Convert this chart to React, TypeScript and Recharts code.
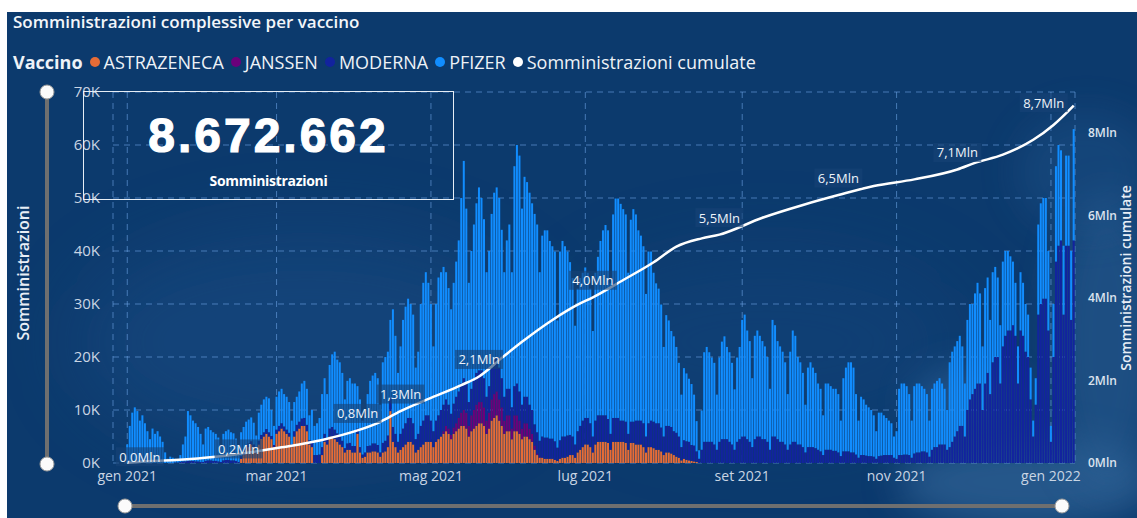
import React from 'react';
import { ComposedChart, Bar, Line, XAxis, YAxis, CartesianGrid, LabelList } from 'recharts';

const FONT = '"Open Sans", "Noto Sans", sans-serif';

// ---- daily administrations (thousands), one sub-array per month, from 2021-01-01 ----
const none = (n: number): number[] => Array(n).fill(0);

const astrazenecaByMonth: number[][] = [
  none(31),
  [...none(14), 0.8, 1.5, 2.5, 3.0, 3.5, 3.0, 2.0, 3.5, 4.5, 5.0, 5.5, 5.0, 4.5, 3.0],
  [5.5, 6.0, 6.5, 6.0, 5.5, 5.0, 3.0, 5.0, 6.0, 6.5, 7.0, 7.0, 6.0, 3.5, 3.0, 0, 0, 0, 1.5, 4.0, 3.5, 5.0, 5.0, 4.5, 4.0, 3.5, 3.0, 2.0, 2.5, 2.5, 2.0],
  [2.0, 5.5, 2.0, 1.0, 1.2, 2.0, 2.0, 2.2, 2.2, 2.0, 1.2, 2.0, 2.2, 3.0, 9.8, 4.0, 3.0, 2.0, 2.5, 3.0, 3.5, 4.0, 4.0, 3.5, 2.0, 2.5, 3.0, 3.5, 4.0, 4.0],
  [4.0, 3.0, 4.0, 4.5, 5.0, 5.5, 6.0, 5.5, 4.5, 5.5, 6.0, 6.5, 7.0, 7.0, 6.5, 5.0, 6.0, 6.5, 7.0, 7.5, 7.5, 7.0, 5.5, 6.5, 8.0, 8.5, 9.0, 8.0, 7.0, 5.5, 6.0],
  [6.0, 4.5, 6.0, 6.0, 5.5, 4.5, 5.0, 5.0, 4.5, 4.0, 2.5, 1.5, 1.0, 1.0, 0.8, 0.8, 0.8, 0.8, 0.6, 0.4, 0.8, 1.0, 1.0, 1.2, 1.5, 1.5, 1.0, 2.0, 2.5, 3.0],
  [3.5, 3.5, 3.0, 2.0, 3.5, 4.0, 4.0, 4.0, 4.0, 3.8, 2.5, 4.0, 4.0, 4.0, 4.0, 4.0, 3.8, 2.5, 3.8, 3.8, 3.5, 3.5, 3.5, 3.0, 2.0, 3.0, 3.0, 2.8, 2.5, 2.5, 2.2],
  [1.5, 2.0, 2.0, 1.8, 1.5, 1.2, 1.0, 0.5, 0.8, 0.6, 0.5, 0.4, 0.3, 0.2, ...none(17)],
  none(30), none(31), none(30), none(31),
  none(10),
];

const janssenByMonth: number[][] = [
  none(31), none(28), none(31), none(30),
  [0, 0, 0, 0, 0, 0.5, 1.0, 1.0, 0.8, 1.2, 1.5, 2.0, 2.5, 3.0, 3.0, 2.0, 3.0, 3.5, 4.0, 4.0, 4.0, 3.5, 2.5, 3.0, 4.0, 4.5, 4.5, 4.0, 3.5, 2.5, 3.0],
  [3.0, 2.0, 3.0, 3.0, 2.5, 2.0, 2.5, 2.5, 2.0, 1.5, 0.8, 0.3, 0.2, ...none(17)],
  none(31), none(31), none(30), none(31), none(30), none(31),
  none(10),
];

const modernaByMonth: number[][] = [
  [...none(19), 0.1, 0.1, 0.2, 0.3, 0.3, 0.4, 0.4, 0.4, 0.3, 0.3, 0.2, 0.2],
  [0.4, 0.5, 0.5, 0.4, 0.4, 0.3, 0.2, 0.5, 0.6, 0.6, 0.5, 0.5, 0.4, 0.2, 0.5, 0.6, 0.7, 0.7, 0.6, 0.5, 0.3, 0.7, 0.8, 0.8, 0.9, 0.8, 0.6, 0.4],
  [0.8, 1.0, 1.0, 0.9, 0.8, 0.7, 0.5, 1.0, 1.2, 1.3, 1.4, 1.5, 1.2, 0.8, 1.2, 1.5, 1.5, 1.6, 1.5, 1.5, 1.0, 1.5, 1.8, 1.8, 1.6, 1.5, 1.2, 0.8, 1.2, 1.3, 1.2],
  [1.2, 1.0, 1.0, 0.6, 0.8, 1.2, 1.3, 1.5, 1.5, 1.4, 0.8, 1.8, 2.0, 2.2, 2.5, 2.8, 2.5, 2.0, 3.0, 3.5, 4.0, 4.5, 4.5, 4.0, 2.5, 3.0, 4.0, 4.5, 5.0, 5.0],
  [4.0, 3.0, 4.0, 4.5, 5.0, 5.0, 5.0, 4.5, 4.0, 4.5, 5.0, 5.0, 5.5, 6.0, 5.5, 4.5, 5.0, 5.5, 6.0, 6.0, 6.0, 5.5, 4.5, 5.0, 6.0, 6.5, 6.5, 6.0, 5.5, 4.5, 5.0],
  [5.0, 4.0, 5.5, 6.0, 5.5, 4.5, 5.0, 5.0, 4.5, 4.5, 4.0, 4.0, 3.0, 4.0, 4.0, 4.0, 3.8, 3.8, 3.5, 2.5, 3.5, 4.0, 4.0, 4.0, 3.8, 3.5, 2.5, 4.0, 4.5, 5.0],
  [5.0, 5.0, 4.5, 3.0, 4.5, 5.0, 5.0, 5.0, 5.0, 4.5, 3.0, 4.5, 4.5, 4.5, 4.0, 4.0, 4.0, 3.0, 4.0, 4.0, 4.5, 4.5, 4.5, 4.5, 3.0, 4.5, 5.0, 5.0, 5.0, 5.0, 4.5],
  [3.5, 5.0, 5.0, 5.0, 4.5, 4.5, 4.0, 2.5, 3.5, 3.5, 3.5, 3.0, 3.0, 2.0, 0.8, 2.5, 4.0, 4.0, 4.0, 4.0, 3.5, 2.5, 4.0, 4.5, 4.5, 4.5, 4.0, 3.5, 2.5, 4.0, 4.5],
  [5.0, 5.0, 4.5, 4.0, 3.0, 4.5, 5.0, 5.0, 4.5, 4.5, 4.0, 2.5, 5.0, 5.0, 4.5, 4.0, 4.0, 3.5, 2.5, 3.5, 4.0, 4.0, 3.5, 3.5, 3.0, 2.0, 3.0, 3.0, 3.0, 2.8],
  [2.5, 2.2, 1.5, 2.5, 2.5, 2.5, 2.3, 2.3, 2.0, 1.3, 2.2, 2.2, 2.2, 2.0, 2.0, 1.6, 1.0, 1.5, 1.5, 1.4, 1.3, 1.3, 1.2, 0.8, 1.3, 1.4, 1.5, 1.5, 1.5, 1.5, 1.0],
  [0.8, 1.5, 1.5, 1.6, 1.6, 1.5, 1.0, 1.8, 2.0, 2.0, 2.2, 2.2, 2.0, 1.2, 2.5, 3.0, 3.0, 3.5, 3.5, 3.5, 2.5, 3.0, 4.0, 5.0, 6.0, 7.0, 7.0, 5.0, 10.0, 12.0],
  [13, 14, 15, 15, 10, 15, 17, 13, 19, 20, 20, 15, 22, 24, 25, 25, 26, 24, 15, 25, 24, 21, 20, 12, 5, 11, 28, 30, 31, 31, 25],
  [4, 20, 38, 41, 42, 28, 41, 41, 27, 42],
];

const pfizerByMonth: number[][] = [
  [3.5, 7.0, 9.5, 10.5, 9.8, 8.0, 9.0, 7.5, 6.0, 4.5, 6.5, 5.5, 6.0, 5.0, 4.0, 2.0, 0.8, 1.2, 1.0, 0.7, 0.5, 1.3, 3.2, 4.7, 9.4, 8.6, 7.6, 7.2, 6.5, 5.3, 3.3],
  [6.1, 6.3, 5.7, 5.4, 5.1, 4.5, 3.0, 5.0, 5.4, 5.7, 5.3, 5.1, 4.2, 2.8, 4.5, 4.7, 4.6, 4.5, 4.5, 4.1, 2.9, 5.3, 5.7, 6.2, 6.1, 6.4, 4.9, 3.6],
  [6.2, 6.5, 6.5, 6.1, 6.2, 5.8, 4.5, 5.5, 5.3, 5.7, 6.6, 7.0, 6.8, 4.7, 5.8, 5.5, 6.0, 6.9, 10.0, 10.5, 8.5, 12.0, 13.7, 14.7, 13.9, 14.0, 12.8, 9.2, 11.8, 12.2, 11.8],
  [11.8, 8.0, 9.0, 6.4, 7.0, 9.8, 12.2, 12.8, 13.3, 12.6, 9.0, 15.2, 15.8, 15.8, 14.7, 22.2, 18.5, 13.0, 16.5, 20.5, 22.0, 22.5, 21.5, 20.5, 13.5, 15.5, 23.0, 26.0, 27.0, 25.0],
  [22.0, 16.0, 22.0, 26.0, 26.0, 26.0, 24.0, 22.0, 19.7, 22.8, 25.5, 28.5, 35.0, 41.0, 33.0, 22.5, 26.0, 29.5, 32.0, 34.5, 32.5, 30.0, 23.5, 25.5, 29.0, 31.5, 32.0, 32.0, 28.0, 23.5, 28.0],
  [31.0, 25.5, 41.5, 45.0, 44.5, 37.0, 41.5, 40.5, 40.0, 39.0, 39.7, 39.2, 31.8, 37.9, 39.1, 39.1, 37.3, 36.3, 35.8, 24.0, 35.6, 36.9, 35.9, 34.7, 32.6, 29.9, 22.4, 26.9, 27.9, 27.9],
  [28.4, 27.4, 25.4, 19.9, 27.9, 29.9, 32.9, 34.9, 35.9, 35.6, 28.4, 38.4, 41.4, 41.4, 40.9, 39.9, 39.1, 30.4, 38.1, 40.1, 38.9, 35.9, 34.9, 33.4, 26.9, 32.4, 31.9, 28.1, 26.4, 25.4, 23.2],
  [16.9, 20.9, 19.9, 18.1, 17.9, 16.2, 13.9, 9.9, 13.6, 12.8, 11.9, 11.5, 9.6, 5.7, 1.6, 7.4, 16.9, 17.9, 16.9, 15.9, 15.4, 10.4, 15.9, 18.4, 19.4, 17.4, 16.9, 15.4, 11.4, 15.9, 17.4],
  [22.0, 23.0, 20.5, 19.0, 13.0, 19.5, 20.0, 19.0, 18.5, 17.5, 16.0, 11.5, 22.0, 21.0, 18.5, 18.0, 17.0, 15.5, 10.5, 17.5, 21.0, 20.0, 16.5, 15.5, 14.0, 9.0, 15.0, 16.0, 15.0, 14.2],
  [12.5, 11.8, 7.5, 12.5, 12.5, 12.0, 11.7, 11.7, 11.0, 6.7, 13.8, 15.8, 16.8, 17.0, 16.0, 11.4, 7.0, 11.0, 10.5, 9.6, 9.2, 8.7, 7.8, 5.2, 8.2, 8.1, 7.5, 7.0, 6.5, 6.0, 4.0],
  [5.2, 12.5, 13.5, 13.4, 12.9, 11.5, 7.0, 12.7, 13.0, 13.0, 12.3, 11.8, 11.0, 6.8, 11.5, 12.0, 12.5, 12.5, 11.5, 10.5, 7.5, 16.0, 17.0, 17.0, 17.0, 17.0, 15.0, 10.0, 17.0, 18.0],
  [17, 18, 19, 17, 12, 18, 18, 14, 17, 17, 15, 11, 16, 16, 15, 14, 12, 10, 7, 11, 10, 9, 8, 6, 3, 5, 17, 19, 19, 19, 15],
  [3, 10, 18, 19, 17, 13, 17, 17, 13, 21],
];

// ---- cumulative administrations (millions) ----
const cumulDates = [
  '2021-01-01', '2021-01-06', '2021-01-20', '2021-02-05', '2021-02-14', '2021-03-03', '2021-03-19',
  '2021-04-02', '2021-04-11', '2021-04-19', '2021-05-01', '2021-05-13', '2021-05-20', '2021-05-29',
  '2021-06-06', '2021-06-18', '2021-06-28', '2021-07-04', '2021-07-16', '2021-07-28', '2021-08-06',
  '2021-08-16', '2021-08-23', '2021-09-09', '2021-09-25', '2021-10-09', '2021-10-23', '2021-11-08',
  '2021-11-25', '2021-12-02', '2021-12-13', '2021-12-25', '2022-01-02', '2022-01-10',
];
const cumulValues = [
  0.004, 0.03, 0.07, 0.15, 0.22, 0.38, 0.56,
  0.79, 1.0, 1.26, 1.58, 1.89, 2.1, 2.55,
  2.94, 3.47, 3.84, 4.02, 4.44, 4.87, 5.25,
  5.45, 5.54, 5.95, 6.26, 6.5, 6.72, 6.88,
  7.12, 7.28, 7.48, 7.84, 8.2, 8.67,
];
const labelDates = [
  '2021-01-06', '2021-02-14', '2021-04-02', '2021-04-19', '2021-05-20',
  '2021-07-04', '2021-08-23', '2021-10-09', '2021-11-25', '2022-01-10',
];

const xTickDates = ['2021-01-01', '2021-03-01', '2021-05-01', '2021-07-01', '2021-09-01', '2021-11-01', '2022-01-01'];
const xTickLabels = ['gen 2021', 'mar 2021', 'mag 2021', 'lug 2021', 'set 2021', 'nov 2021', 'gen 2022'];
const leftTicks = [0, 10, 20, 30, 40, 50, 60, 70];
const rightTicks = [0, 2, 4, 6, 8];

const seriesKeys = ['astrazeneca', 'janssen', 'moderna', 'pfizer'];
const seriesNames = ['ASTRAZENECA', 'JANSSEN', 'MODERNA', 'PFIZER'];
const seriesColors = ['#E66C37', '#6B007B', '#12239E', '#118DFF'];

const totalAdministrations = '8.672.662';

// ---- build table ----
const astrazeneca = astrazenecaByMonth.flat();
const janssen = janssenByMonth.flat();
const moderna = modernaByMonth.flat();
const pfizer = pfizerByMonth.flat();

const nDays = Math.min(astrazeneca.length, janssen.length, moderna.length, pfizer.length);
const cumulMap = new Map<string, number>(cumulDates.map((d, i) => [d, cumulValues[i]]));
const start = Date.UTC(2021, 0, 1);
const data = Array.from({ length: nDays }, (_, i) => {
  const date = new Date(start + i * 86400000).toISOString().slice(0, 10);
  return {
    date,
    astrazeneca: astrazeneca[i],
    janssen: janssen[i],
    moderna: moderna[i],
    pfizer: pfizer[i],
    cumul: cumulMap.has(date) ? cumulMap.get(date) : null,
  };
});

const fmtMln = (v: number) => `${v.toFixed(1).replace('.', ',')}Mln`;

const PLOT_RIGHT = 1075;
const PLOT_BOTTOM = 463;

const LineLabel = (props: any) => {
  const { x, y, value, index } = props;
  if (value == null || x == null || y == null) return null;
  const row = data[index];
  if (!row || !labelDates.includes(row.date)) return null;
  const w = 48;
  const h = 19;
  let cx = x;
  let cy = y - 17;
  if (cx + w / 2 > PLOT_RIGHT - 4) {
    // no room on the right: place to the left of the point
    cx = x - w / 2 - 6;
    cy = y - 3;
  } else if (y > PLOT_BOTTOM - 12) {
    // hugging the baseline
    cy = y - 5;
  }
  return (
    <g>
      <rect x={cx - w / 2} y={cy - h / 2} width={w} height={h} fill="rgba(22,66,118,0.62)" />
      <text x={cx} y={cy} textAnchor="middle" dominantBaseline="central" fill="#eef3f9" fontSize={13} fontFamily={FONT}>
        {fmtMln(value)}
      </text>
    </g>
  );
};

const tickStyle = { fill: '#c9d5e4', fontSize: 14, fontFamily: FONT };

export default function App() {
  return (
    <div style={{ position: 'fixed', left: 0, top: 0, width: 1137, height: 518, overflow: 'hidden', background: '#ffffff' }}>
      {/* card background */}
      <div style={{ position: 'absolute', left: 7, top: 12, width: 1130, height: 506, background: '#0c3a6d', overflow: 'hidden' }}>
        <svg width={1130} height={506} style={{ position: 'absolute', left: 0, top: 0 }}>
          <defs>
            <filter id="blurA" x="-50%" y="-50%" width="200%" height="200%">
              <feGaussianBlur stdDeviation="18" />
            </filter>
            <filter id="blurB" x="-50%" y="-50%" width="200%" height="200%">
              <feGaussianBlur stdDeviation="40" />
            </filter>
          </defs>
          <ellipse cx={300} cy={330} rx={230} ry={110} fill="#1b4f88" opacity={0.45} filter="url(#blurB)" />
          <ellipse cx={760} cy={330} rx={200} ry={90} fill="#184a82" opacity={0.35} filter="url(#blurB)" />
          <ellipse cx={1020} cy={470} rx={130} ry={45} fill="#3a6fa3" opacity={0.55} filter="url(#blurA)" />
          <ellipse cx={1100} cy={330} rx={55} ry={150} fill="#2e6498" opacity={0.5} filter="url(#blurA)" />
          <ellipse cx={960} cy={390} rx={55} ry={35} fill="#3f77ad" opacity={0.4} filter="url(#blurA)" />
          <ellipse cx={1080} cy={160} rx={70} ry={60} fill="#24578c" opacity={0.4} filter="url(#blurA)" />
        </svg>
      </div>

      {/* title */}
      <div style={{ position: 'absolute', left: 13, top: 11, fontFamily: FONT, fontSize: 17, fontWeight: 600, color: '#f3f6fa', lineHeight: '22px', whiteSpace: 'nowrap' }}>
        Somministrazioni complessive per vaccino
      </div>

      {/* legend */}
      <div style={{ position: 'absolute', left: 13, top: 50, height: 24, display: 'flex', alignItems: 'center', fontFamily: FONT, fontSize: 18, color: '#eef2f7', whiteSpace: 'nowrap' }}>
        <span style={{ fontWeight: 700, marginRight: 7 }}>Vaccino</span>
        {seriesNames.map((n, i) => (
          <span key={n} style={{ display: 'flex', alignItems: 'center', marginRight: 7 }}>
            <span style={{ width: 10, height: 10, borderRadius: '50%', background: seriesColors[i], marginRight: 4, display: 'inline-block' }} />
            {n}
          </span>
        ))}
        <span style={{ display: 'flex', alignItems: 'center' }}>
          <span style={{ width: 10, height: 10, borderRadius: '50%', background: '#ffffff', marginRight: 4, display: 'inline-block' }} />
          Somministrazioni cumulate
        </span>
      </div>

      {/* chart */}
      <div style={{ position: 'absolute', left: 0, top: 0 }}>
        <ComposedChart
          width={1137}
          height={518}
          data={data}
          margin={{ top: 92, right: 12, bottom: 25, left: 63 }}
          barCategoryGap="8%"
        >
          <CartesianGrid yAxisId="left" stroke="rgba(110,165,230,0.6)" strokeDasharray="6 5" />
          <XAxis
            dataKey="date"
            ticks={xTickDates}
            interval={0}
            tickFormatter={(v: string) => xTickLabels[xTickDates.indexOf(v)] ?? ''}
            axisLine={false}
            tickLine={false}
            padding={{ left: 13, right: 0 }}
            height={30}
            tick={tickStyle}
          />
          <YAxis
            yAxisId="left"
            domain={[0, 70]}
            ticks={leftTicks}
            tickFormatter={(v: number) => `${v}K`}
            axisLine={false}
            tickLine={false}
            width={50}
            tickMargin={7}
            tick={{ ...tickStyle, fontSize: 15 }}
          />
          <YAxis
            yAxisId="right"
            orientation="right"
            domain={[0, 9]}
            ticks={rightTicks}
            tickFormatter={(v: number) => `${v}Mln`}
            axisLine={false}
            tickLine={false}
            width={50}
            tickMargin={7}
            tick={{ fill: '#dbe3ee', fontSize: 12, fontWeight: 600, fontFamily: FONT }}
          />
          {seriesKeys.map((k, i) => (
            <Bar key={k} yAxisId="left" dataKey={k} stackId="v" fill={seriesColors[i]} isAnimationActive={false} />
          ))}
          <Line
            yAxisId="right"
            dataKey="cumul"
            type="monotone"
            stroke="#ffffff"
            strokeWidth={2.5}
            dot={false}
            connectNulls
            isAnimationActive={false}
          >
            <LabelList dataKey="cumul" content={LineLabel} />
          </Line>
        </ComposedChart>
      </div>

      {/* KPI card */}
      <div style={{ position: 'absolute', left: 83, top: 91, width: 369, height: 107, border: '1px solid #e6edf5', boxSizing: 'content-box' }}>
        <div style={{ position: 'absolute', left: 0, right: 0, top: 16, textAlign: 'center', fontFamily: '"Liberation Sans", Arial, sans-serif', fontWeight: 700, fontSize: 48, lineHeight: '56px', color: '#ffffff', letterSpacing: 3, WebkitTextStroke: '1.2px #ffffff' }}>
          {totalAdministrations}
        </div>
        <div style={{ position: 'absolute', left: 0, right: 0, top: 79, textAlign: 'center', fontFamily: FONT, fontWeight: 700, fontSize: 14, color: '#ffffff', letterSpacing: -0.3 }}>
          Somministrazioni
        </div>
      </div>

      {/* axis titles */}
      <div style={{ position: 'absolute', left: 23, top: 273, transform: 'translate(-50%, -50%) rotate(-90deg)', fontFamily: FONT, fontWeight: 600, fontSize: 16, color: '#e8eef6', whiteSpace: 'nowrap' }}>
        Somministrazioni
      </div>
      <div style={{ position: 'absolute', left: 1126, top: 278, transform: 'translate(-50%, -50%) rotate(-90deg)', fontFamily: FONT, fontWeight: 600, fontSize: 14, lineHeight: '18px', color: '#e8eef6', whiteSpace: 'nowrap' }}>
        Somministrazioni cumulate
      </div>

      {/* zoom sliders */}
      <svg width={1137} height={518} style={{ position: 'absolute', left: 0, top: 0, pointerEvents: 'none' }}>
        <line x1={47} y1={92} x2={47} y2={464} stroke="#6f6f6f" strokeWidth={4} />
        <circle cx={47} cy={92} r={7} fill="#fbfbfb" stroke="#9a9a9a" strokeWidth={1} />
        <circle cx={47} cy={464} r={7} fill="#fbfbfb" stroke="#9a9a9a" strokeWidth={1} />
        <line x1={125} y1={506} x2={1062} y2={506} stroke="#6f6f6f" strokeWidth={4} />
        <circle cx={125} cy={506} r={7} fill="#fbfbfb" stroke="#9a9a9a" strokeWidth={1} />
        <circle cx={1062} cy={506} r={7} fill="#fbfbfb" stroke="#9a9a9a" strokeWidth={1} />
      </svg>
    </div>
  );
}
